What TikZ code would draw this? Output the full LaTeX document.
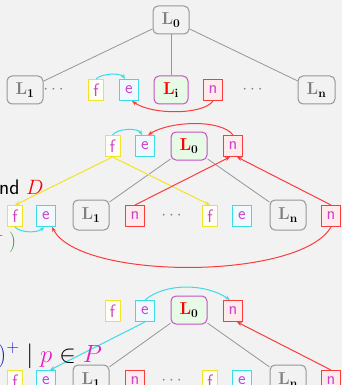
\documentclass[tikz,border=0pt]{standalone}
\usepackage{amsmath,amssymb}
\usetikzlibrary{arrows.meta}
\definecolor{bg}{RGB}{242,242,242}
\definecolor{lab}{RGB}{204,68,204}
\definecolor{yel}{RGB}{240,228,40}
\definecolor{cy}{RGB}{60,220,230}
\definecolor{rd}{RGB}{250,60,60}
\definecolor{gl}{RGB}{150,150,150}
\definecolor{hb}{RGB}{200,80,200}
\definecolor{hf}{RGB}{230,250,230}
\definecolor{mblue}{RGB}{30,30,200}
\definecolor{mmag}{RGB}{230,30,190}
\definecolor{mgreen}{RGB}{50,150,50}
\newcommand\Lgray[1]{$\color{gray}\mathbf{L}_{\color{black}\mathbf{#1}}$}
\newcommand\Lred[1]{$\color{red}\mathbf{L}_{\color{black}\mathbf{#1}}$}
\begin{document}
\begin{tikzpicture}[x=1pt,y=-1pt,
  lbl/.style={inner sep=0pt,minimum height=21pt,line width=1pt,text=lab,font=\fontsize{18}{18}\sffamily},
  fb/.style={lbl,draw=yel,fill=yellow!4,minimum width=15pt},
  eb/.style={lbl,draw=cy,fill=cyan!6,minimum width=19pt},
  nb/.style={lbl,draw=rd,fill=red!8,minimum width=19pt},
  gb/.style={draw=gl,fill=bg,rounded corners=5pt,line width=1pt,minimum width=36pt,minimum height=28pt,inner sep=0pt,font=\fontsize{17.5}{17.5}\selectfont},
  hbx/.style={gb,draw=hb,fill=hf},
  dts/.style={inner sep=0pt,text=gray,font=\fontsize{17}{17}\selectfont},
  tree/.style={draw=gl,line width=0.8pt},
  carr/.style={draw=cy,line width=1pt,-{Stealth[length=5pt,width=4pt]}},
  rarr/.style={draw=rd,line width=1pt,-{Stealth[length=5pt,width=4pt]}},
  yarr/.style={draw=yel,line width=1pt,-{Stealth[length=5pt,width=4pt]}},
  txt/.style={inner sep=0pt,font=\fontsize{21}{21}\selectfont}
]
\useasboundingbox[fill=bg] (0,0) rectangle (342,385);

% ---- top tree
\node[gb] (tL0) at (171,20) {\Lgray{0}};
\node[gb] (tL1) at (25,90) {\Lgray{1}};
\node[dts] (td1) at (55,90) {$\cdots$};
\node[fb] (tf) at (96,90) {f};
\node[eb] (te) at (129,90) {e};
\node[hbx,minimum width=34pt] (tLi) at (171,90) {\Lred{i}};
\node[nb] (tn) at (213,90) {n};
\node[dts] (td2) at (254,90) {$\cdots$};
\node[gb,minimum width=37pt] (tLn) at (316.5,90) {\Lgray{n}};
\draw[tree] (tL0) -- (tL1);
\draw[tree] (tL0) -- (tLi);
\draw[tree] (tL0) -- (tLn);
\draw[carr] (tf.north) .. controls +(6,-6) and +(-4,-6) .. ([xshift=-4pt]te.north);
\draw[rarr] (tn.south) .. controls +(-10,14) and +(20,14) .. ([xshift=3pt]te.south);

% ---- middle tree
\node[fb] (mf) at (112.5,146) {f};
\node[eb] (me) at (145,146) {e};
\node[hbx] (mL0) at (189,146) {\Lred{0}};
\node[nb] (mn) at (233,146) {n};
\node[fb] (mf1) at (15,216) {f};
\node[eb] (me1) at (46,216) {e};
\node[gb,minimum height=30pt] (mL1) at (91,215) {\Lgray{1}};
\node[nb] (mn1) at (135,216) {n};
\node[dts] (md) at (173,216) {$\cdots$};
\node[fb] (mf2) at (210,216) {f};
\node[eb] (me2) at (242,216) {e};
\node[gb,minimum height=30pt] (mLn) at (288,215) {\Lgray{n}};
\node[nb] (mn2) at (331,216) {n};
\draw[tree] (mL0) -- (mL1);
\draw[tree] (mL0) -- (mLn);
\draw[yarr] (mf.south) -- (mf1.north);
\draw[yarr] (mf.south) -- (mf2.north);
\draw[rarr] (mn1.north) -- ([xshift=-3pt]mn.south);
\draw[rarr] (mn2.north) -- ([xshift=4pt]mn.south);
\draw[rarr] (mn.north) .. controls +(-12,-16) and +(22,-14) .. ([xshift=3pt]me.north);
\draw[carr] (mf.north) .. controls +(5,-7) and +(-4,-7) .. ([xshift=-3pt]me.north);
\draw[carr] (mf1.south) .. controls +(5,6) and +(-6,6) .. ([xshift=-2pt]me1.south);
\draw[rarr] (mn2.south) .. controls +(-31,53.5) and +(28,53.5) .. ([xshift=6pt]me1.south);

% ---- bottom tree
\node[fb] (bf) at (112.5,311) {f};
\node[eb] (be) at (145,311) {e};
\node[hbx] (bL0) at (189,310) {\Lred{0}};
\node[nb] (bn) at (233,311) {n};
\node[fb] (bf1) at (15,381) {f};
\node[eb] (be1) at (46,381) {e};
\node[gb,minimum height=30pt] (bL1) at (91,380) {\Lgray{1}};
\node[nb] (bn1) at (135,381) {n};
\node[dts] (bd) at (173,381) {$\cdots$};
\node[fb] (bf2) at (210,381) {f};
\node[eb] (be2) at (242,381) {e};
\node[gb,minimum height=30pt] (bLn) at (288,380) {\Lgray{n}};
\node[nb] (bn2) at (331,381) {n};
\draw[tree] (bL0) -- (bL1);
\draw[tree] (bL0) -- (bLn);
\draw[carr] (be.north) .. controls +(20,-17) and +(-25,-17) .. ([xshift=-3pt]bn.north);
\draw[carr] (be.south) -- ([xshift=4pt]be1.north);
\draw[rarr] (bn2.north) -- ([xshift=4pt]bn.south);

% ---- clipped slide text
\node[txt,anchor=base west,font=\fontsize{21}{21}\sffamily] (ta) at (-10.5,194) {and \textcolor{red}{$D$}};
\node[txt,anchor=base east] (tb) at (16.5,247) {$\textcolor{mblue}{{}^{+}}\kern5pt\textcolor{mgreen}{)}$};
\node[txt,anchor=base west,font=\fontsize{25}{25}\selectfont] (tc) at (-2.5,362) {$\textcolor{mblue}{)^{+}}\mid \textcolor{mmag}{p}\in\textcolor{mmag}{P}$};
\end{tikzpicture}
\end{document}
